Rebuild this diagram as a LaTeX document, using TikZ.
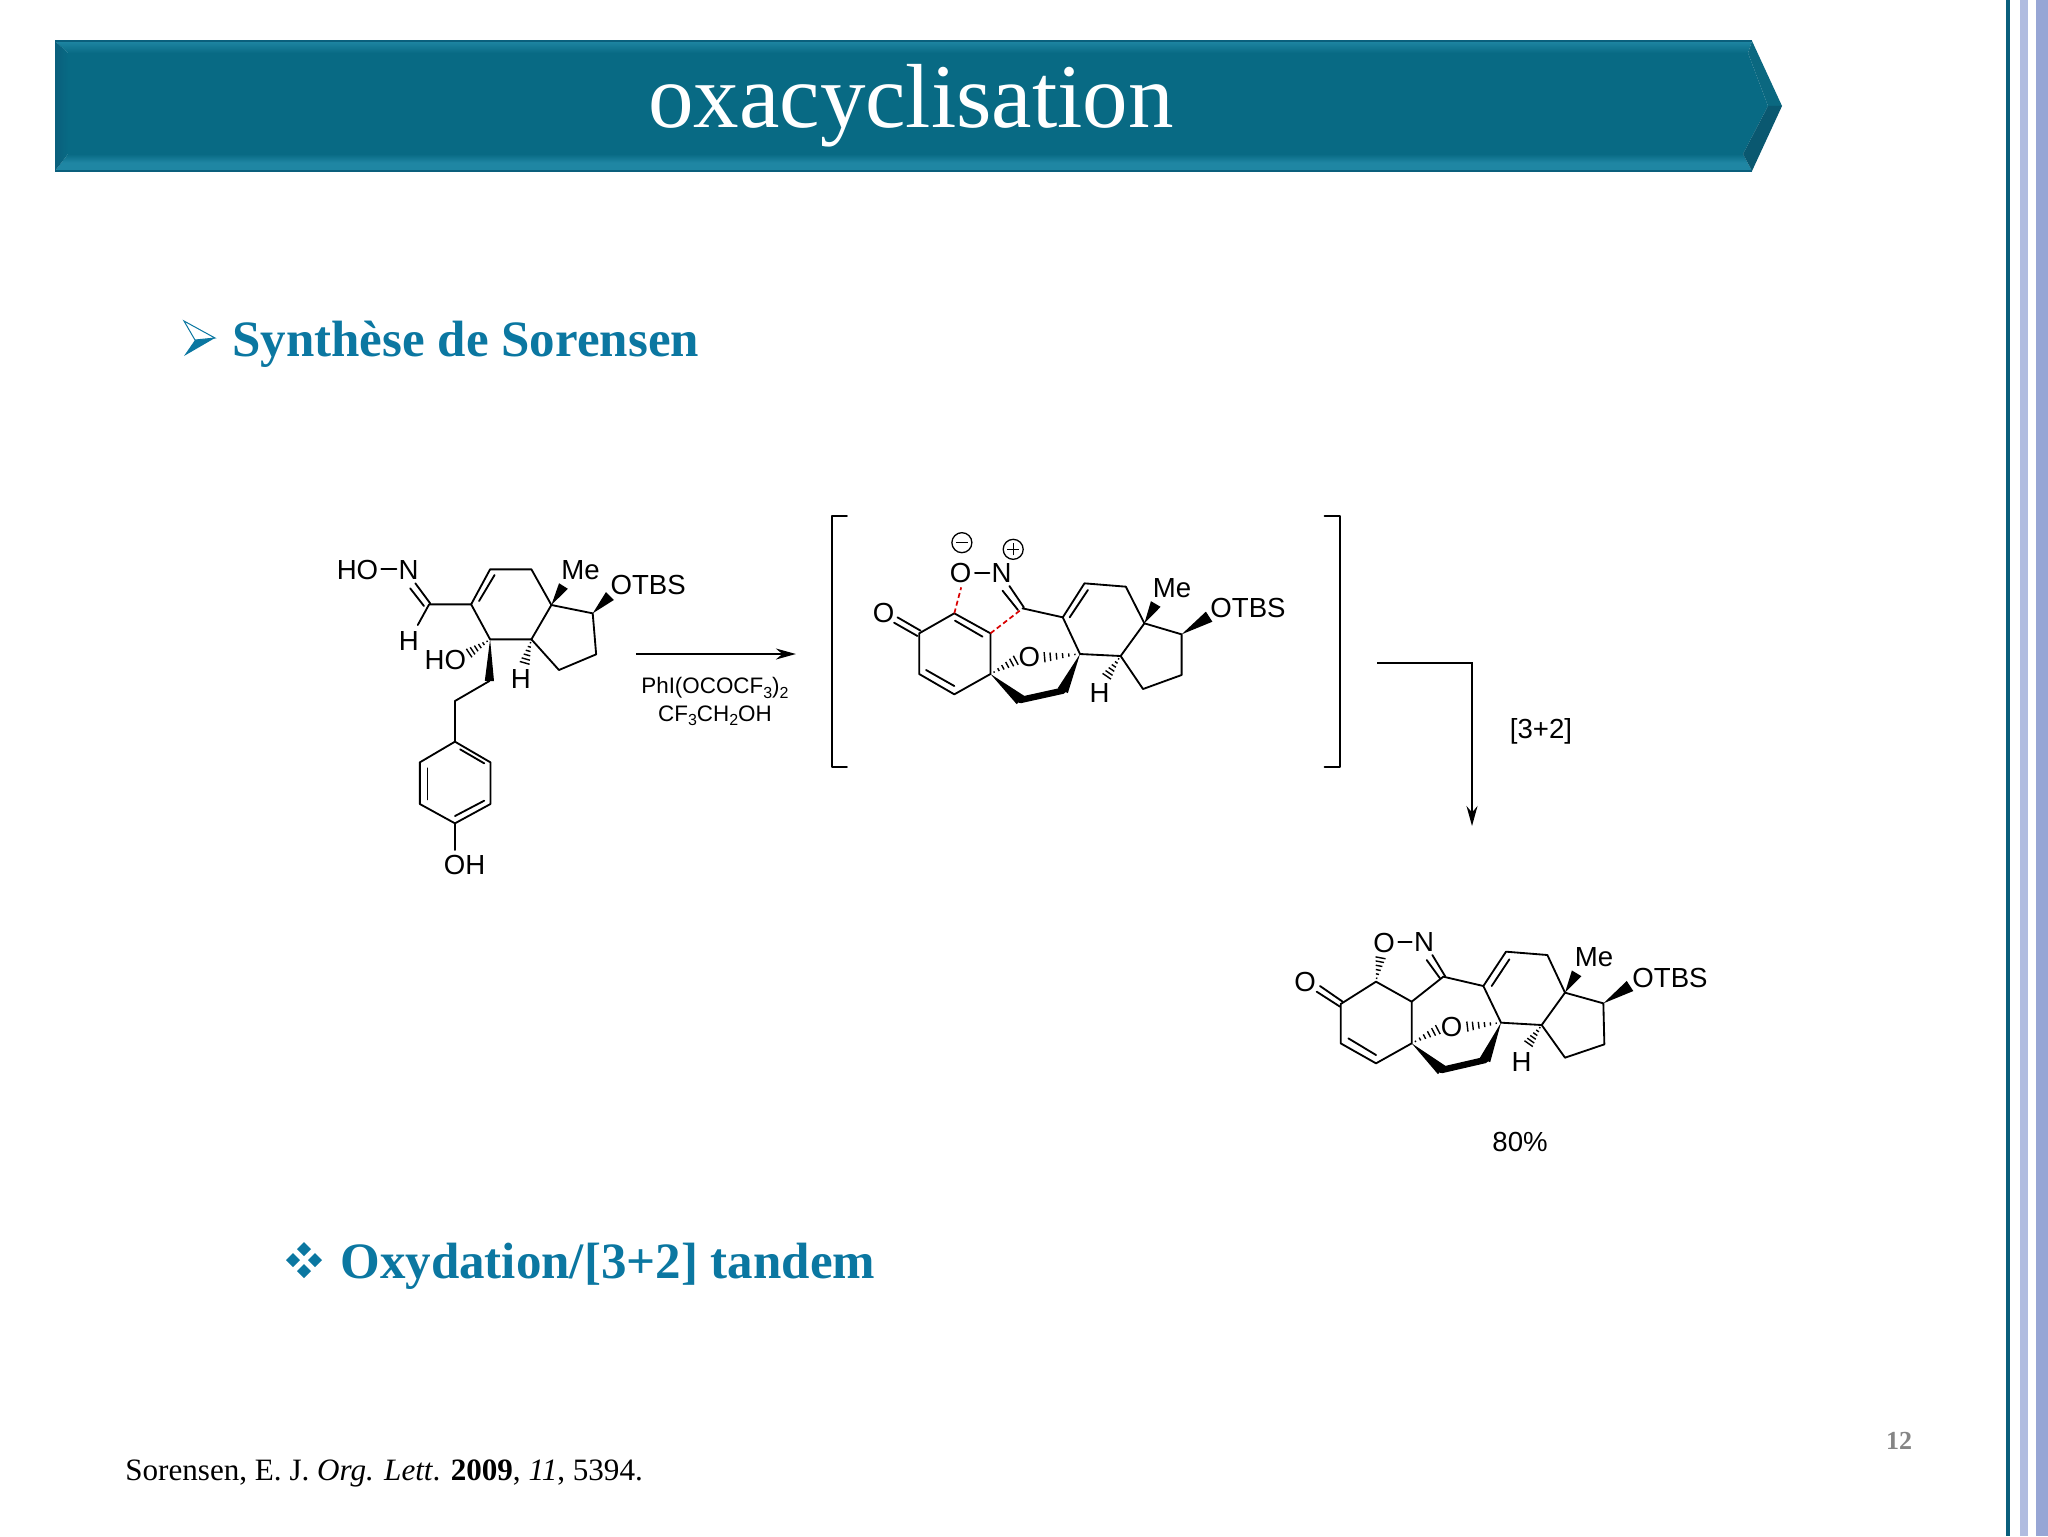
\documentclass[tikz,border=0pt]{standalone}
\usepackage{fontspec}
\setmainfont{Liberation Serif}
\newfontfamily\chemfont{Liberation Sans}
\usetikzlibrary{calc,arrows.meta}
\definecolor{banner}{HTML}{086A84}
\definecolor{bevtop}{HTML}{1F86A3}
\definecolor{bevleft}{HTML}{0A5F7C}
\definecolor{bevrlow}{HTML}{0A5870}
\definecolor{bevrup}{HTML}{0B6880}
\definecolor{heading}{HTML}{0B77A1}
\newcommand\sbs[1]{\raisebox{-2.4pt}{\fontsize{8}{8}\selectfont #1}}
\newcommand\wedgeb[3]{\fill (#1) -- ($(#2)!#3!90:(#1)$) -- ($(#2)!#3!-90:(#1)$) -- cycle;}
\newcommand\hashb[3]{\foreach \t in {0.14,0.31,0.48,0.65,0.82,0.98}{
  \coordinate (hm) at ($(#1)!\t!(#2)$);
  \draw[hashline] ($(hm)!\t*#3!90:(#2)$) -- ($(hm)!\t*#3!-90:(#2)$);}}
\tikzset{
  bond/.style={line width=0.92pt,line cap=round,line join=round},
  hashline/.style={line width=0.7pt},
  boldbond/.style={line width=3.2pt,line cap=round,line join=round},
  dashbond/.style={line width=0.85pt,red!85!black,dash pattern=on 2.5pt off 1.5pt},
  atom/.style={font=\chemfont\fontsize{13.8}{14}\selectfont,inner sep=0pt,text=black},
  reagent/.style={font=\chemfont\fontsize{11.2}{12}\selectfont,inner sep=0pt,text=black},
  head/.style={font=\bfseries\fontsize{25.5}{28}\selectfont,text=heading,inner sep=0pt,anchor=west},
  rxn/.style={line width=0.92pt,-{Stealth[length=10pt,width=5.5pt]}},
  charge/.style={line width=0.65pt},
  zoomA/.style={x=0.17218pt,y=-0.16667pt},
  zoomC/.style={x=0.16667pt,y=-0.16667pt}
}
\begin{document}
\begin{tikzpicture}[x=0.5pt,y=-0.5pt]
\useasboundingbox (0,0) rectangle (2048,1536);
\fill[white] (0,0) rectangle (2048,1536);
% side stripes
\fill[fill=bevleft] (2006,0) rectangle (2010,1536);
\fill[fill={rgb,255:red,176;green,188;blue,224}] (2020,0) rectangle (2028,1536);
\fill[fill={rgb,255:red,151;green,166;blue,213}] (2036,0) rectangle (2048,1536);
% banner
\coordinate (tl) at (55,41); \coordinate (tr) at (1752,41); \coordinate (tip) at (1782,106);
\coordinate (br) at (1752,171); \coordinate (bl) at (55,171);
\coordinate (itl) at (68,53); \coordinate (itr) at (1748,53); \coordinate (itip) at (1768,106);
\coordinate (ibr) at (1743,154); \coordinate (ibl) at (68,154);
\fill[banner] (itl) -- (itr) -- (itip) -- (ibr) -- (ibl) -- cycle;
\shade[top color=bevtop,bottom color=banner] (tl) -- (tr) -- (itr) -- (itl) -- cycle;
\shade[top color=banner,bottom color=bevtop,middle color=bevtop] (bl) -- (br) -- (ibr) -- (ibl) -- cycle;
\shade[left color=bevleft,right color=banner] (tl) -- (itl) -- (ibl) -- (bl) -- cycle;
\fill[bevrup] (tr) -- (tip) -- (itip) -- (itr) -- cycle;
\fill[bevrlow] (tip) -- (br) -- (ibr) -- (itip) -- cycle;
\draw[bevleft,line width=0.7pt] (tl) -- (tr);
\draw[bevleft,line width=0.7pt] (bl) -- (br);
\node[text=white,inner sep=0pt,anchor=base,font=\fontsize{45.5}{50}\selectfont] (title) at (911,127) {oxacyclisation};
% headings
\fill[heading] (184,321) -- (215,338) -- (184,356) -- (195,340) -- cycle;
\draw[heading,line width=0.5pt,fill=white] (184,321) -- (215,338) -- (195,340) -- cycle;
\node[head] (h1) at (232,344) {Synthèse de Sorensen};
\foreach \cx/\cy in {304/1249,293/1260,315/1260,304/1271}{
  \fill[heading] (\cx-7,\cy) -- (\cx,\cy-7) -- (\cx+7,\cy) -- (\cx,\cy+7) -- cycle;}
\node[head] (h2) at (340,1266) {Oxydation/[3+2] tandem};
\node[inner sep=0pt,anchor=base west,font=\fontsize{15.55}{18}\selectfont] (ref) at (125,1480) {Sorensen, E. J. \textit{Org. Lett}. \textbf{2009}, \textit{11}, 5394.};
\node[inner sep=0pt,font=\bfseries\fontsize{13}{15}\selectfont,text=black!48] (pg) at (1899,1441) {12};

% ---------- molecule 1
\begin{scope}[shift={(300,520)},zoomA]
\foreach \n/\x/\y in {c1/375/253,c2/497/253,c3/552/148,c4/672/148,c5/730/255,c6/672/358,c7/552/358,
  c8/850/280,c9/860/403,c10/752/450,nh/342/315,me/765/198,ot/900/228,cb/550/483,cc/450/543,
  r1/450/665,r2/553/727,r3/553/852,r4/450/910,r5/348/852,r6/348/727,oh/450/990,hoh/490/400,hh/652/430,
  no1/378/250,no2/335/190,no3/360/258,no4/320/205,i1/520/243,i2/565/165,
  j1/465/688,j2/535/730,j3/370/745,j4/370/838,j5/535/842,j6/450/888,hoa/236/148,hob/280/148,
  ar1/975/402,ar2/1440/402}{\coordinate (m1\n) at (\x,\y);}
\draw[bond] (m1hoa) -- (m1hob);
\draw[bond] (m1no1) -- (m1no2);
\draw[bond] (m1no3) -- (m1no4);
\draw[bond] (m1nh) -- (m1c1) -- (m1c2) -- (m1c3) -- (m1c4) -- (m1c5) -- (m1c6) -- (m1c7) -- (m1c2);
\draw[bond] (m1i1) -- (m1i2);
\draw[bond] (m1c5) -- (m1c8) -- (m1c9) -- (m1c10) -- (m1c6);
\draw[bond] (m1cb) -- (m1cc) -- (m1r1);
\draw[bond] (m1r1) -- (m1r2) -- (m1r3) -- (m1r4) -- (m1r5) -- (m1r6) -- cycle;
\draw[bond] (m1j1) -- (m1j2);
\draw[bond] (m1j3) -- (m1j4);
\draw[bond] (m1j5) -- (m1j6);
\draw[bond] (m1r4) -- (m1oh);
\wedgeb{m1c5}{m1me}{2.6pt}
\wedgeb{m1c8}{m1ot}{2.8pt}
\wedgeb{m1c7}{m1cb}{2.3pt}
\hashb{m1c7}{m1hoh}{2.6pt}
\hashb{m1c6}{m1hh}{2.6pt}
\node[atom] (m1txt1) at (167,150) {HO};
\node[atom] (m1txt2) at (315,150) {N};
\node[atom] (m1txt3) at (316,362) {H};
\node[atom] (m1txt4) at (815,150) {Me};
\node[atom] (m1txt5) at (1011,195) {OTBS};
\node[atom] (m1txt6) at (422,420) {HO};
\node[atom] (m1txt7) at (641,478) {H};
\node[atom] (m1txt8) at (478,1035) {OH};
\draw[rxn] (m1ar1) -- (m1ar2);
\node[reagent] (m1rg1) at (1205,505) {PhI(OCOCF\sbs{3})\sbs{2}};
\node[reagent] (m1rg2) at (1205,587) {CF\sbs{3}CH\sbs{2}OH};
\end{scope}

% ---------- molecule 2
\begin{scope}[shift={(820,500)},zoomA]
\foreach \n/\x/\y in {a1/390/340,a2/495/400,a3/495/522,a4/390/583,a5/288/522,a6/288/400,
  b1/588/325,b2/705/352,b3/768/250,b4/888/260,b5/942/370,b6/873/468,b7/755/462,
  c1/1050/403,c2/1050/525,c3/938/567,me/975/312,ot/1130/350,hh/832/530,
  o1/570/480,o2/650/472,d1/582/600,d2/705/572,
  e1/292/392,e2/225/352,e3/283/408,e4/215/368,f1/592/322,f2/550/258,f3/575/330,f4/530/272,
  g1/725/352,g2/778/270,k1/392/362,k2/472/410,k3/390/558,k4/308/510,
  ono1/450/218,ono2/492/218,r1/410/262,r2/585/328,
  bl1/78/48,bl2/35/48,bl3/35/800,bl4/78/800,br1/1465/48,br2/1510/48,br3/1510/800,br4/1465/800}{\coordinate (m2\n) at (\x,\y);}
\draw[bond] (m2bl1) -- (m2bl2) -- (m2bl3) -- (m2bl4);
\draw[bond] (m2br1) -- (m2br2) -- (m2br3) -- (m2br4);
\draw[bond] (m2a1) -- (m2a2) -- (m2a3) -- (m2a4) -- (m2a5) -- (m2a6) -- cycle;
\draw[bond] (m2k1) -- (m2k2);
\draw[bond] (m2k3) -- (m2k4);
\draw[bond] (m2e1) -- (m2e2);
\draw[bond] (m2e3) -- (m2e4);
\draw[bond] (m2f1) -- (m2f2);
\draw[bond] (m2f3) -- (m2f4);
\draw[bond] (m2ono1) -- (m2ono2);
\draw[bond] (m2b1) -- (m2b2) -- (m2b3) -- (m2b4) -- (m2b5) -- (m2b6) -- (m2b7) -- (m2b2);
\draw[bond] (m2g1) -- (m2g2);
\draw[bond] (m2b5) -- (m2c1) -- (m2c2) -- (m2c3) -- (m2b6);
\draw[dashbond] (m2a1) -- (m2r1);
\draw[dashbond] (m2a2) -- (m2r2);
\wedgeb{m2b5}{m2me}{2.8pt}
\wedgeb{m2c1}{m2ot}{3pt}
\wedgeb{m2a3}{m2d1}{2.8pt}
\wedgeb{m2b7}{m2d2}{2.8pt}
\draw[boldbond] (m2d1) -- (m2d2);
\hashb{m2b6}{m2hh}{2.6pt}
\hashb{m2a3}{m2o1}{2.6pt}
\hashb{m2b7}{m2o2}{2.6pt}
\node[atom] (m2txt1) at (185,340) {O};
\node[atom] (m2txt2) at (408,220) {O};
\node[atom] (m2txt3) at (527,218) {N};
\node[atom] (m2txt4) at (1022,265) {Me};
\node[atom] (m2txt5) at (1243,325) {OTBS};
\node[atom] (m2txt6) at (608,472) {O};
\node[atom] (m2txt7) at (812,578) {H};
\coordinate (m2mc) at (412,128);
\coordinate (m2pc) at (561,148);
\draw[charge] (m2mc) circle[radius=5pt];
\draw[charge] (m2pc) circle[radius=5pt];
\draw[charge] ($(m2mc)+(-3pt,0)$) -- ($(m2mc)+(3pt,0)$);
\draw[charge] ($(m2pc)+(-3pt,0)$) -- ($(m2pc)+(3pt,0)$);
\draw[charge] ($(m2pc)+(0,-3pt)$) -- ($(m2pc)+(0,3pt)$);
\end{scope}

% ---------- [3+2] arrow
\coordinate (ar1) at (1377,663); \coordinate (ar2) at (1472,663); \coordinate (ar3) at (1472,826);
\draw[rxn,line join=miter] (ar1) -- (ar2) -- (ar3);
\node[atom] (arlab) at (1541,731) {[3+2]};

% ---------- molecule 3
\begin{scope}[shift={(1270,900)},zoomC]
\foreach \n/\x/\y in {b1/318/245,b2/425/305,b3/425/430,b4/318/490,b5/212/430,b6/212/312,
  c1/520/230,c2/640/258,c3/708/155,c4/832/165,c5/885/278,c6/815/375,c7/693/368,
  d1/1000/310,d2/1003/433,d3/885/473,me/920/220,ot/1080/258,hh/775/432,
  o1/505/388,o2/590/380,e1/515/510,e2/645/480,up/332/172,
  f1/218/305,f2/150/258,f3/210/320,f4/140/275,g1/525/228,g2/487/165,g3/510/235,g4/470/180,
  k1/665/258,k2/718/178,k3/318/465,k4/235/415,ono1/385/125,ono2/425/125}{\coordinate (m3\n) at (\x,\y);}
\draw[bond] (m3b1) -- (m3b2) -- (m3b3) -- (m3b4) -- (m3b5) -- (m3b6) -- cycle;
\draw[bond] (m3k3) -- (m3k4);
\draw[bond] (m3f1) -- (m3f2);
\draw[bond] (m3f3) -- (m3f4);
\draw[bond] (m3g1) -- (m3g2);
\draw[bond] (m3g3) -- (m3g4);
\draw[bond] (m3ono1) -- (m3ono2);
\draw[bond] (m3b2) -- (m3c1) -- (m3c2) -- (m3c3) -- (m3c4) -- (m3c5) -- (m3c6) -- (m3c7) -- (m3c2);
\draw[bond] (m3k1) -- (m3k2);
\draw[bond] (m3c5) -- (m3d1) -- (m3d2) -- (m3d3) -- (m3c6);
\wedgeb{m3c5}{m3me}{2.8pt}
\wedgeb{m3d1}{m3ot}{3pt}
\wedgeb{m3b3}{m3e1}{2.8pt}
\wedgeb{m3c7}{m3e2}{2.8pt}
\draw[boldbond] (m3e1) -- (m3e2);
\hashb{m3c6}{m3hh}{2.6pt}
\hashb{m3b3}{m3o1}{2.6pt}
\hashb{m3c7}{m3o2}{2.6pt}
\hashb{m3b1}{m3up}{2.6pt}
\node[atom] (m3txt1) at (105,247) {O};
\node[atom] (m3txt2) at (342,128) {O};
\node[atom] (m3txt3) at (462,125) {N};
\node[atom] (m3txt4) at (972,172) {Me};
\node[atom] (m3txt5) at (1200,235) {OTBS};
\node[atom] (m3txt6) at (545,380) {O};
\node[atom] (m3txt7) at (755,487) {H};
\node[atom] (m3txt8) at (750,725) {80\%};
\end{scope}
\end{tikzpicture}
\end{document}
